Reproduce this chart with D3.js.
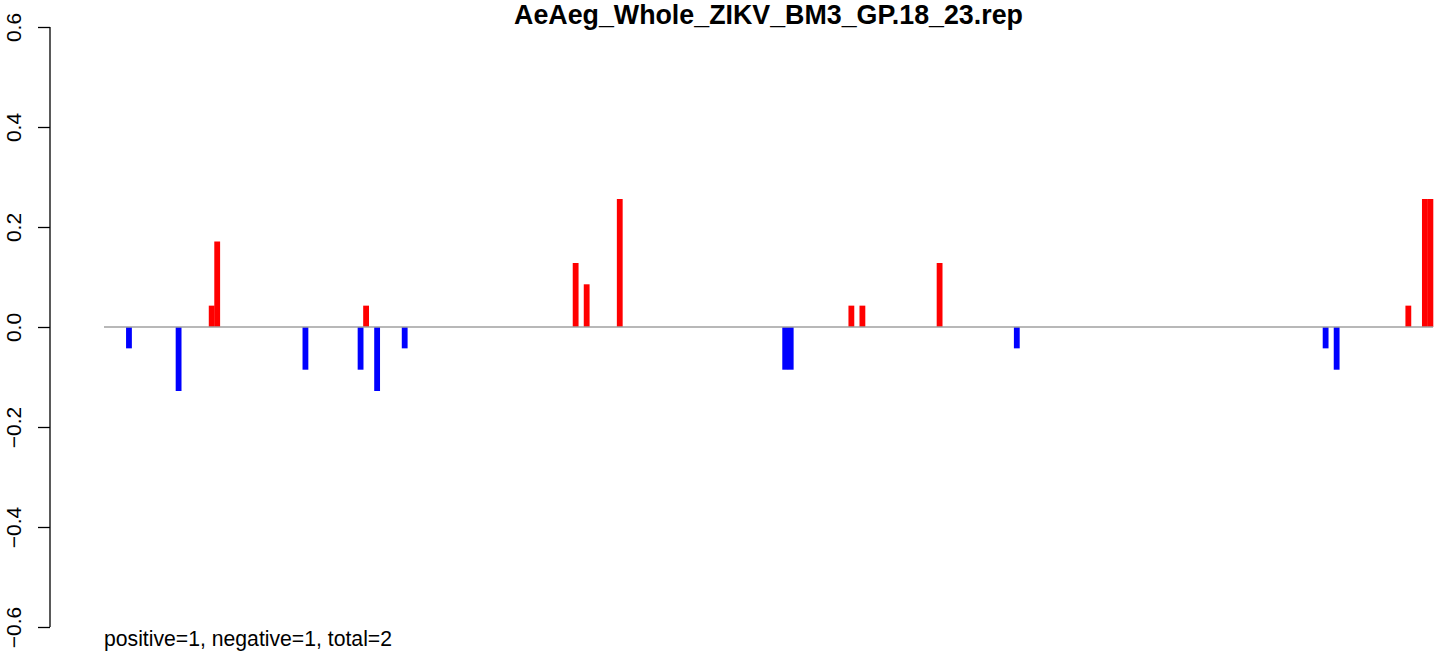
<!DOCTYPE html>
<html>
<head>
<meta charset="utf-8">
<script src="https://cdn.jsdelivr.net/npm/d3@7"></script>
<style>
  html, body { margin: 0; padding: 0; background: #fff; }
  svg { display: block; }
  text { font-family: "Liberation Sans", Arial, Helvetica, sans-serif; }
</style>
</head>
<body>
<svg id="chart" width="1455" height="656"></svg>
<script>
// ---- data ----
const titleText = "AeAeg_Whole_ZIKV_BM3_GP.18_23.rep";
const footerText = "positive=1, negative=1, total=2";
const slotCount = 241;                       // number of bar slots (mostly zero)
const barIndex = [4, 13, 19, 20, 36, 46, 47, 49, 54, 85, 87, 93, 123, 124, 135, 137, 151, 165, 221, 223, 236, 239, 240];
const barValue = [-0.0427, -0.128, 0.0427, 0.171, -0.0854, -0.0854, 0.0427, -0.128, -0.0427,
                  0.128, 0.0854, 0.256, -0.0854, -0.0854, 0.0427, 0.0427, 0.128, -0.0427,
                  -0.0427, -0.0854, 0.0427, 0.256, 0.256];
const yTicks = [-0.6, -0.4, -0.2, 0.0, 0.2, 0.4, 0.6];
const yDomain = [-0.6, 0.6];

// ---- layout ----
const svg = d3.select("#chart");
const plotLeft = 104, plotRight = 1433;
const axisX = 50;

const x = d3.scaleLinear().domain([0, slotCount]).range([plotLeft, plotRight]);
const y = d3.scaleLinear().domain(yDomain).range([627, 27]);

const bars = barIndex.map((i, k) => ({ i, v: barValue[k] }));

svg.append("g").selectAll("rect")
  .data(bars)
  .join("rect")
  .attr("x", d => x(d.i))
  .attr("width", d => x(d.i + 1) - x(d.i) + 0.3)
  .attr("y", d => y(Math.max(0, d.v)))
  .attr("height", d => Math.abs(y(d.v) - y(0)))
  .attr("fill", d => d.v >= 0 ? "#ff0000" : "#0000ff");

// zero line
svg.append("line")
  .attr("x1", x(0)).attr("x2", x(slotCount))
  .attr("y1", y(0)).attr("y2", y(0))
  .attr("stroke", "#a0a0a0")
  .attr("stroke-width", 1.4);

// y axis
const yAxis = d3.axisLeft(y)
  .tickValues(yTicks)
  .tickSize(12)
  .tickFormat(d3.format(".1f"));

const ag = svg.append("g")
  .attr("transform", `translate(${axisX},0)`)
  .call(yAxis);
ag.select(".domain").attr("stroke", "#000").attr("stroke-width", 1.3)
  .attr("d", `M0,${y(0.6)}V${y(-0.6)}`);
ag.selectAll(".tick line").attr("stroke", "#000").attr("stroke-width", 1.3);
ag.selectAll(".tick text")
  .attr("transform", "rotate(-90)")
  .attr("x", 0)
  .attr("y", -29)
  .attr("dy", 0)
  .attr("text-anchor", "middle")
  .attr("font-size", 21)
  .attr("font-family", "'Liberation Sans', Arial, sans-serif")
  .attr("fill", "#000");

// title
svg.append("text")
  .attr("x", (plotLeft + plotRight) / 2)
  .attr("y", 24)
  .attr("text-anchor", "middle")
  .attr("font-size", 26.8)
  .attr("font-weight", "bold")
  .text(titleText);

// footer
svg.append("text")
  .attr("x", plotLeft)
  .attr("y", 646)
  .attr("font-size", 21.2)
  .text(footerText);
</script>
</body>
</html>
